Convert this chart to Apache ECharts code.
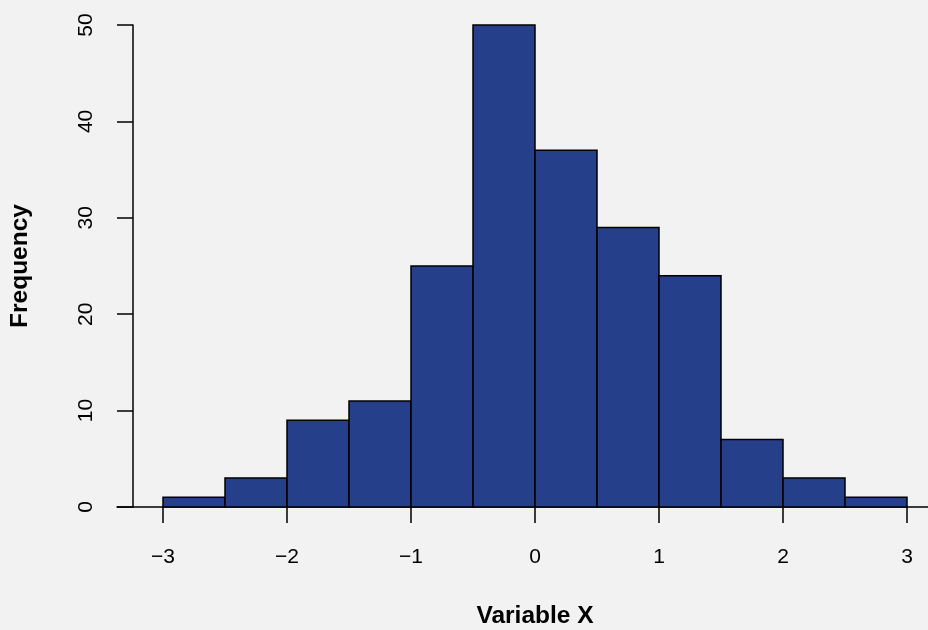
<!DOCTYPE html>
<html>
<head>
<meta charset="utf-8">
<script src="https://cdn.jsdelivr.net/npm/echarts@6/dist/echarts.min.js"></script>
<style>
html, body { margin: 0; padding: 0; background: #f2f2f2; }
#main { width: 928px; height: 630px; }
</style>
</head>
<body>
<div id="main"></div>
<script>
// histogram bins (width 0.5) and counts
var binStart = [-3, -2.5, -2, -1.5, -1, -0.5, 0, 0.5, 1, 1.5, 2, 2.5];
var binEnd = [-2.5, -2, -1.5, -1, -0.5, 0, 0.5, 1, 1.5, 2, 2.5, 3];
var counts = [1, 3, 9, 11, 25, 50, 37, 29, 24, 7, 3, 1];

var xTicks = [-3, -2, -1, 0, 1, 2, 3];
var yTicks = [0, 10, 20, 30, 40, 50];

var barData = [];
for (var i = 0; i < counts.length; i++) {
	barData.push([binStart[i], binEnd[i], counts[i]]);
}

function minus(v) {
	return String(v).replace('-', '\u2212');
}

var fontFam = '"Liberation Sans", Arial, sans-serif';

var option = {
	backgroundColor: '#f2f2f2',
	animation: false,
	grid: [
		{ left: 163, right: 21, top: 25, bottom: 123, outerBoundsMode: 'none', containLabel: false },
		{ left: 117, right: 0, top: 25, bottom: 123, outerBoundsMode: 'none', containLabel: false }
	],
	xAxis: [
		{
			type: 'value',
			gridIndex: 0,
			min: xTicks[0],
			max: xTicks[xTicks.length - 1],
			interval: 1,
			name: 'Variable X',
			nameLocation: 'middle',
			nameGap: 97,
			nameTextStyle: { fontFamily: fontFam, fontSize: 24.5, fontWeight: 'bold', color: '#000' },
			axisLine: { show: false, onZero: false },
			axisTick: { show: true, length: 16, lineStyle: { color: '#000', width: 1.5 } },
			axisLabel: {
				fontFamily: fontFam, fontSize: 21, color: '#000', margin: 40,
				formatter: function (v) { return minus(v); }
			},
			splitLine: { show: false }
		},
		{
			type: 'value',
			gridIndex: 1,
			min: 0,
			max: 1,
			axisLine: { show: true, onZero: false, lineStyle: { color: '#000', width: 1.5 } },
			axisTick: { show: false },
			axisLabel: { show: false },
			splitLine: { show: false }
		}
	],
	yAxis: [
		{
			type: 'value',
			gridIndex: 0,
			min: yTicks[0],
			max: yTicks[yTicks.length - 1],
			interval: 10,
			offset: 30,
			name: 'Frequency',
			nameLocation: 'middle',
			nameGap: 100,
			nameTextStyle: { fontFamily: fontFam, fontSize: 24.5, fontWeight: 'bold', color: '#000' },
			axisLine: { show: true, onZero: false, lineStyle: { color: '#000', width: 1.5 } },
			axisTick: { show: true, length: 16, lineStyle: { color: '#000', width: 1.5 } },
			axisLabel: {
				fontFamily: fontFam, fontSize: 21, color: '#000', margin: 36, rotate: 90
			},
			splitLine: { show: false }
		},
		{
			type: 'value',
			gridIndex: 1,
			show: false
		}
	],
	series: [
		{
			type: 'custom',
			xAxisIndex: 0,
			yAxisIndex: 0,
			data: barData,
			renderItem: function (params, api) {
				var p0 = api.coord([api.value(0), api.value(2)]);
				var p1 = api.coord([api.value(1), 0]);
				return {
					type: 'rect',
					shape: { x: p0[0], y: p0[1], width: p1[0] - p0[0], height: p1[1] - p0[1] },
					style: { fill: '#263f8a', stroke: '#000', lineWidth: 1.5 }
				};
			}
		}
	]
};

var myChart = echarts.init(document.getElementById('main'));
myChart.setOption(option);
</script>
</body>
</html>
